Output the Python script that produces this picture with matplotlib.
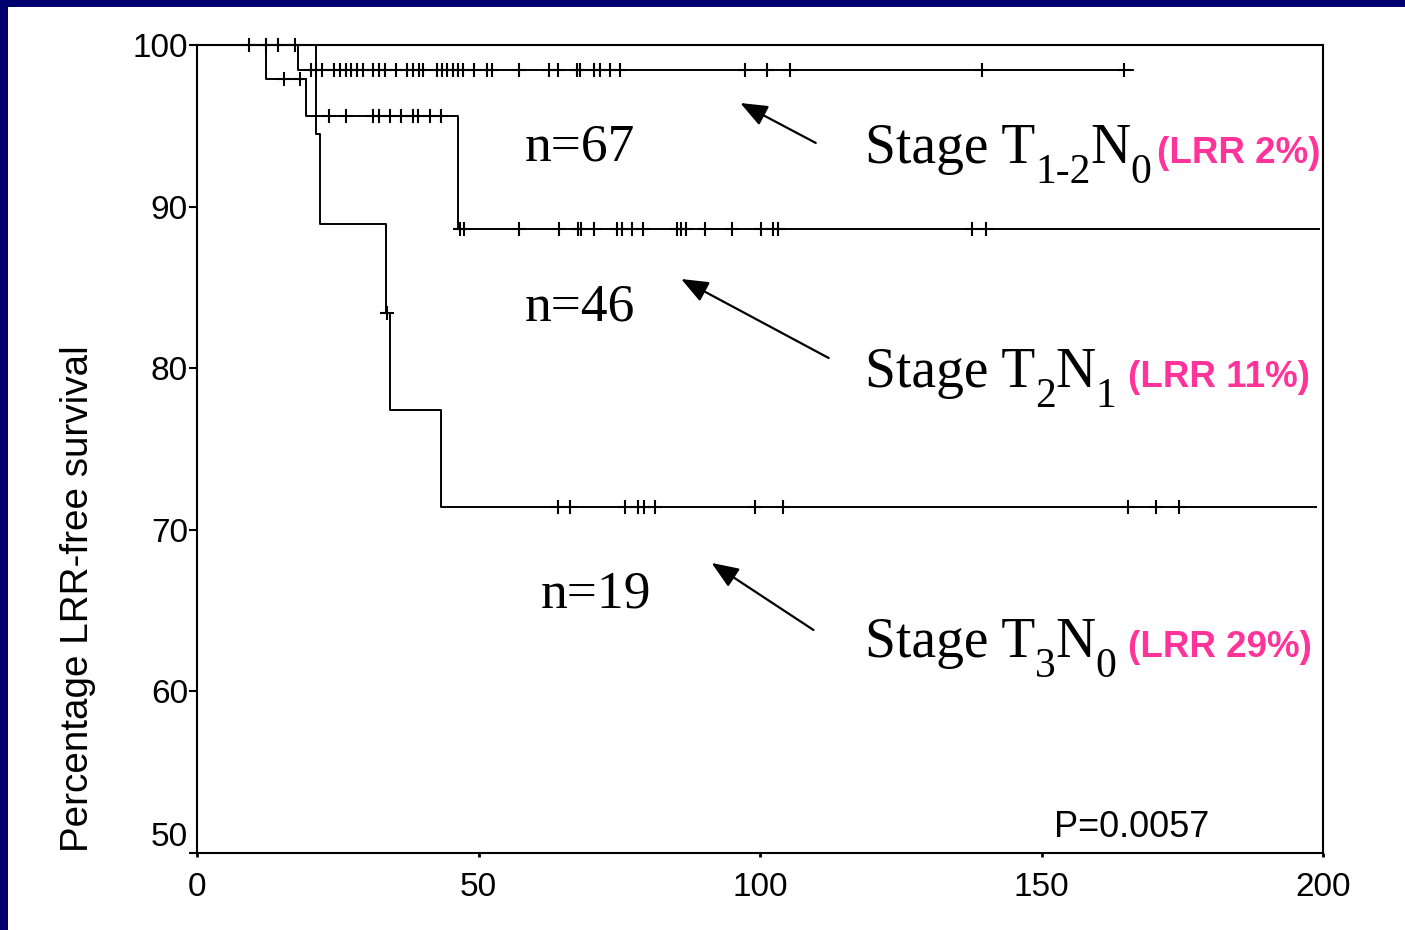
import matplotlib
matplotlib.use('Agg')
import numpy as np
import matplotlib.pyplot as plt
from matplotlib.patches import Rectangle

# ---- data ----
# step curves: times where survival changes, survival after the change, last time = end of follow-up
t12n0_time = [0, 18.0, 166.2]
t12n0_surv = [100, 98.45, 98.45]
t12n0_cens = [9.3, 12.2, 14.4, 17.4,
              20.2, 21.2, 22.2, 24.4, 25.4, 26.4, 27.4, 28.4, 29.4, 31.2, 32.4, 33.4,
              35.3, 37.3, 38.3, 39.4, 40.2, 42.6, 43.5, 44.4, 45.4, 46.3, 47.3, 49.2,
              51.5, 52.4, 57.2, 62.5, 64.2, 67.5, 68.1, 70.6, 71.5, 73.4, 75.2,
              97.4, 101.3, 105.4, 139.5, 164.7]

t2n1_time = [0, 12.2, 19.3, 46.3, 199.3]
t2n1_surv = [100, 97.9, 95.6, 88.6, 88.6]
t2n1_cens = [15.5, 18.3,
             23.5, 26.4, 31.2, 32.4, 34.3, 36.3, 38.3, 39.2, 41.4, 43.3,
             46.8, 47.4, 57.2, 64.3, 67.6, 68.2, 70.5, 74.6, 75.4, 77.2, 79.2,
             85.3, 86.0, 86.8, 90.3, 95.0, 100.2, 102.3, 103.2, 137.6, 140.2]

t3n0_time = [0, 21.2, 21.9, 33.5, 34.2, 43.3, 198.8]
t3n0_surv = [100, 94.5, 88.9, 83.4, 77.4, 71.4, 71.4]
t3n0_cens = [33.7, 64.2, 66.2, 76.1, 78.3, 79.4, 81.4, 99.2, 104.1, 165.4, 170.4, 174.5]

group_n = ['n=67', 'n=46', 'n=19']
stage_main = ['T', 'T', 'T']
stage_sub1 = ['1-2', '2', '3']
stage_sub2 = ['0', '1', '0']
stage_lrr = ['(LRR 2%)', '(LRR 11%)', '(LRR 29%)']

x_ticks = [0, 50, 100, 150, 200]
y_ticks = [50, 60, 70, 80, 90, 100]
p_text = 'P=0.0057'
y_label = 'Percentage LRR-free survival'

NAVY = '#00006e'
PINK = '#ff3399'
SANS = 'Liberation Sans'
SERIF = 'Liberation Serif'


def step_value(times, surv, t):
    idx = np.searchsorted(times, t, side='right') - 1
    return np.asarray(surv)[idx]


fig = plt.figure(figsize=(14.05, 9.3), dpi=100, facecolor='white')
# navy slide border (top and left)
fig.patches.append(Rectangle((0, 1 - 7 / 930), 1, 7 / 930, transform=fig.transFigure,
                             facecolor=NAVY, edgecolor='none', zorder=-1))
fig.patches.append(Rectangle((0, 0), 8 / 1405, 1, transform=fig.transFigure,
                             facecolor=NAVY, edgecolor='none', zorder=-1))

ax = fig.add_axes([197 / 1405, 1 - 853 / 930, (1323 - 197) / 1405, (853 - 45) / 930])
ax.set_xlim(0, 200)
ax.set_ylim(50, 100)

curves = [(t12n0_time, t12n0_surv, t12n0_cens),
          (t2n1_time, t2n1_surv, t2n1_cens),
          (t3n0_time, t3n0_surv, t3n0_cens)]
for times, surv, cens in curves:
    ax.plot(times, surv, drawstyle='steps-post', color='black', lw=1.4, clip_on=False)
    ax.plot(cens, step_value(times, surv, cens), ls='none', marker='+',
            markersize=10, mew=1.5, color='black', clip_on=False)

for sp in ax.spines.values():
    sp.set_linewidth(1.5)

ax.set_xticks(x_ticks)
ax.set_yticks(y_ticks)
ax.tick_params(axis='x', direction='out', length=3, width=2, pad=11, labelsize=24)
ax.tick_params(axis='y', direction='out', length=6, width=1.5, pad=0.5, labelsize=24)
for lab in ax.get_xticklabels() + ax.get_yticklabels():
    lab.set_family(SANS)
ax.get_yticklabels()[0].set_va('bottom')

fig.text(78 / 1405, 1 - 599 / 930, y_label, rotation=90, ha='center', va='center',
         family=SANS, fontsize=27.8)

# n= labels
n_pos = [(58.3, 92.88), (58.3, 82.98), (61.0, 65.22)]
for (x, y), txt in zip(n_pos, group_n):
    ax.text(x, y, txt, family=SERIF, fontsize=38.5, ha='left', va='baseline')

# arrows (tip, tail)
arrows = [((96.5, 96.41), (109.9, 93.94)),
          ((86.0, 85.52), (112.2, 80.63)),
          ((91.4, 67.95), (109.5, 63.80))]
for tip, tail in arrows:
    ax.annotate('', xy=tip, xytext=tail,
                arrowprops=dict(arrowstyle='-|>,head_length=0.55,head_width=0.22',
                                color='black', lw=1.6, mutation_scale=30,
                                shrinkA=0, shrinkB=0))

# stage labels, built piece by piece
serif_big = dict(family=SERIF, fontsize=40)
serif_sub = dict(family=SERIF, fontsize=30)
pink_kw = dict(family=SANS, fontsize=26.5, fontweight='bold', color=PINK)
stage_y = [92.70, 78.84, 62.13]
pink_gap = [4, 8, 8]
for i, y in enumerate(stage_y):
    prev = ax.text(118.6, y, 'Stage ' + stage_main[i], ha='left', va='baseline', **serif_big)
    parts = [(stage_sub1[i], serif_sub, 0, -14.2),
             ('N', serif_big, 0, 0),
             (stage_sub2[i], serif_sub, 0, -14.2),
             (stage_lrr[i], pink_kw, pink_gap[i], 0)]
    for txt, kw, dx, dy in parts:
        prev = ax.annotate(txt, xy=(1, y), xycoords=(prev, 'data'), xytext=(dx, dy),
                           textcoords='offset points', ha='left', va='baseline', **kw)

ax.text(152.2, 50.99, p_text, family=SANS, fontsize=26, ha='left', va='baseline')

fig.savefig('out.png', dpi=100)
